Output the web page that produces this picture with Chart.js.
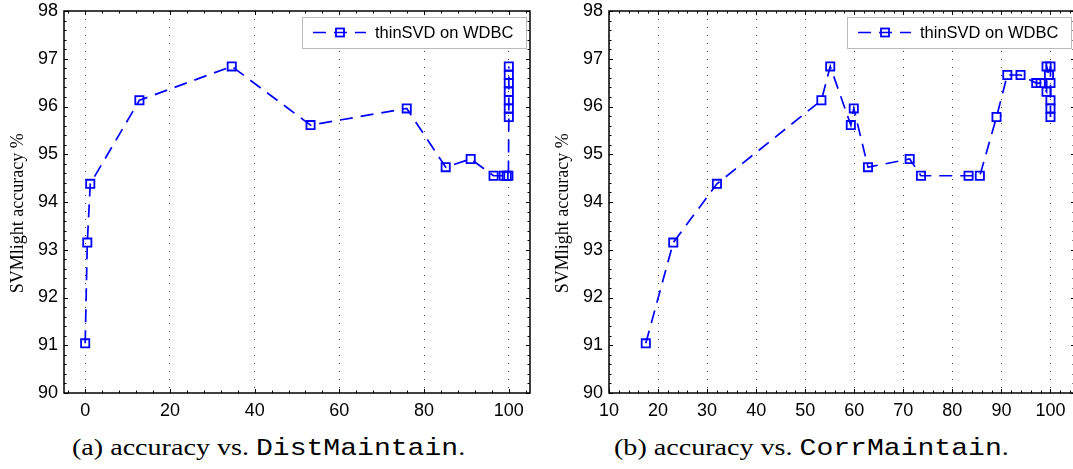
<!DOCTYPE html>
<html>
<head>
<meta charset="utf-8">
<script src="https://cdn.jsdelivr.net/npm/chart.js@4.4.1/dist/chart.umd.min.js"></script>
<style>
    html, body { margin: 0; padding: 0; background: #fff; width: 1073px; height: 469px; overflow: hidden; }
    .box { position: absolute; top: 0; width: 540px; height: 425px; }
    .cap { position: absolute; top: 434px; font-family: 'Liberation Serif', serif; font-size: 24px; white-space: nowrap;
           transform-origin: left top; transform: scaleX(1.17); color: #000; }
    .cap span { font-family: 'Liberation Mono', monospace; }
</style>
</head>
<body>
<div class="box" style="left:0"><canvas id="distChart"></canvas></div>
<div class="box" style="left:545px"><canvas id="corrChart"></canvas></div>
<div class="cap" style="left:72px">(a) accuracy vs. <span>DistMaintain</span>.</div>
<div class="cap" style="left:614px">(b) accuracy vs. <span>CorrMaintain</span>.</div>
<script>
// (a) accuracy vs. DistMaintain
const distX = [0, 0.5, 1.2, 12.8, 34.6, 53.2, 75.9, 85.1, 91.0, 96.4, 98.8, 99.5, 99.9,
               100, 100, 100, 100, 100, 100, 100];
const distY = [91.04, 93.15, 94.38, 96.13, 96.84, 95.61, 95.96, 94.73, 94.90, 94.55, 94.55, 94.55, 94.55,
               95.78, 95.96, 96.13, 96.31, 96.49, 96.66, 96.84];

// (b) accuracy vs. CorrMaintain
const corrX = [17.5, 23.1, 32.0, 53.3, 55.1, 59.3, 59.9, 62.8, 71.3, 73.6, 83.3, 85.6, 89.0,
               91.2, 93.9, 97.1, 98.0, 99.2, 99.2, 99.7, 100, 100, 100, 100, 100];
const corrY = [91.04, 93.15, 94.38, 96.13, 96.84, 95.61, 95.96, 94.73, 94.90, 94.55, 94.55, 94.55, 95.78,
               96.66, 96.66, 96.49, 96.49, 96.31, 96.84, 96.66, 96.84, 96.49, 96.13, 95.96, 95.78];

// tick labels
const yTicks = [90, 91, 92, 93, 94, 95, 96, 97, 98];
const distTicks = [0, 20, 40, 60, 80, 100];
const corrTicks = [10, 20, 30, 40, 50, 60, 70, 80, 90, 100];

const seriesLabel = 'thinSVD on WDBC';
const yTitle = 'SVMlight accuracy %\u00a0\u00a0\u00a0\u00a0\u00a0';

const BLUE = '#0000ff';
const tickFont = { family: "'Liberation Sans', Arial, sans-serif", size: 18 };

// box round the plot with MATLAB style inward ticks
const framePlugin = {
    id: 'frame',
    afterDraw(chart, args, opts) {
        const { ctx, chartArea: a } = chart;
        const x = chart.scales.x, y = chart.scales.y;
        ctx.save();
        ctx.strokeStyle = '#000';
        ctx.lineWidth = 1;
        ctx.beginPath();
        const steps = (min, max, step, major, fn) => {
            for (let i = Math.ceil(min / step - 1e-9); i * step <= max + 1e-9; i++) {
                const v = i * step;
                const isMajor = Math.abs(v / major - Math.round(v / major)) < 1e-6;
                fn(v, isMajor ? 4 : 2.5);
            }
        };
        steps(x.min, x.max, opts.minorX, opts.majorX, (v, len) => {
            const px = Math.round(x.getPixelForValue(v)) + 0.5;
            ctx.moveTo(px, a.bottom); ctx.lineTo(px, a.bottom - len);
            ctx.moveTo(px, a.top); ctx.lineTo(px, a.top + len);
        });
        steps(y.min, y.max, 0.2, 1, (v, len) => {
            const py = Math.round(y.getPixelForValue(v)) + 0.5;
            ctx.moveTo(a.left, py); ctx.lineTo(a.left + len, py);
            ctx.moveTo(a.right, py); ctx.lineTo(a.right - len, py);
        });
        ctx.stroke();
        ctx.lineWidth = 1.5;
        ctx.strokeRect(a.left, a.top, a.right - a.left, a.bottom - a.top);
        ctx.restore();
    }
};

// legend box: dashed line with a square marker and the series name
const legendPlugin = {
    id: 'lineLegend',
    afterDraw(chart) {
        const { ctx, chartArea: a } = chart;
        const ds = chart.data.datasets[0];
        const w = 224, h = 31;
        const bx = a.right - 4 - w, by = a.top + 6;
        ctx.save();
        ctx.fillStyle = '#fff';
        ctx.fillRect(bx, by, w, h);
        ctx.strokeStyle = '#bbb';
        ctx.lineWidth = 1;
        ctx.strokeRect(bx + 0.5, by + 0.5, w, h);
        const cy = by + h / 2;
        ctx.strokeStyle = ds.borderColor;
        ctx.lineWidth = ds.borderWidth;
        ctx.setLineDash(ds.borderDash);
        ctx.beginPath();
        ctx.moveTo(bx + 11, cy); ctx.lineTo(bx + 64, cy);
        ctx.stroke();
        ctx.setLineDash([]);
        ctx.lineWidth = ds.pointBorderWidth;
        ctx.strokeRect(bx + 34, cy - 4, 8, 8);
        ctx.fillStyle = '#000';
        ctx.font = "16.5px 'Liberation Sans', Arial, sans-serif";
        ctx.textBaseline = 'middle';
        ctx.fillText(ds.label, bx + 73, cy + 1);
        ctx.restore();
    }
};

function makeChart(id, xs, ys, xMin, xMax, xTicks, minorX, majorX) {
    const ctx = document.getElementById(id).getContext('2d');
    return new Chart(ctx, {
        type: 'line',
        data: {
            datasets: [{
                label: seriesLabel,
                data: xs.map((v, i) => ({ x: v, y: ys[i] })),
                borderColor: BLUE,
                borderWidth: 1.7,
                borderDash: [13, 8],
                pointStyle: 'rect',
                pointRadius: 5.8,
                pointBorderWidth: 1.8,
                pointBorderColor: BLUE,
                pointBackgroundColor: 'rgba(0,0,0,0)',
                tension: 0,
                fill: false
            }]
        },
        options: {
            responsive: false,
            animation: false,
            devicePixelRatio: 1,
            layout: { padding: { top: 11, right: 10, left: 0, bottom: 0 } },
            plugins: {
                legend: { display: false },
                tooltip: { enabled: false },
                frame: { minorX: minorX, majorX: majorX }
            },
            scales: {
                x: {
                    type: 'linear',
                    min: xMin,
                    max: xMax,
                    afterBuildTicks: s => { s.ticks = xTicks.map(v => ({ value: v })); },
                    afterFit: s => { s.height = 32; s.paddingLeft = 0; s.paddingRight = 0; },
                    ticks: { color: '#000', font: tickFont, padding: 7, maxRotation: 0, autoSkip: false },
                    grid: { display: true, drawTicks: false, color: '#444', lineWidth: 1 },
                    border: { display: false, dash: [1, 7] }
                },
                y: {
                    type: 'linear',
                    min: 90,
                    max: 98,
                    afterBuildTicks: s => { s.ticks = yTicks.map(v => ({ value: v })); },
                    afterFit: s => { s.width = 64; s.paddingTop = 0; s.paddingBottom = 0; },
                    ticks: { color: '#000', font: tickFont, padding: 6 },
                    grid: { display: false, drawTicks: false },
                    border: { display: false },
                    title: {
                        display: true,
                        text: yTitle,
                        color: '#000',
                        font: { family: "'Liberation Serif', serif", size: 18 },
                        padding: { top: 7, bottom: 0 }
                    }
                }
            }
        },
        plugins: [framePlugin, legendPlugin]
    });
}

document.getElementById('distChart').width = 540;
document.getElementById('distChart').height = 425;
document.getElementById('corrChart').width = 540;
document.getElementById('corrChart').height = 425;

makeChart('distChart', distX, distY, -5, 105, distTicks, 4, 20);
makeChart('corrChart', corrX, corrY, 10, 105, corrTicks, 2, 10);
</script>
</body>
</html>
